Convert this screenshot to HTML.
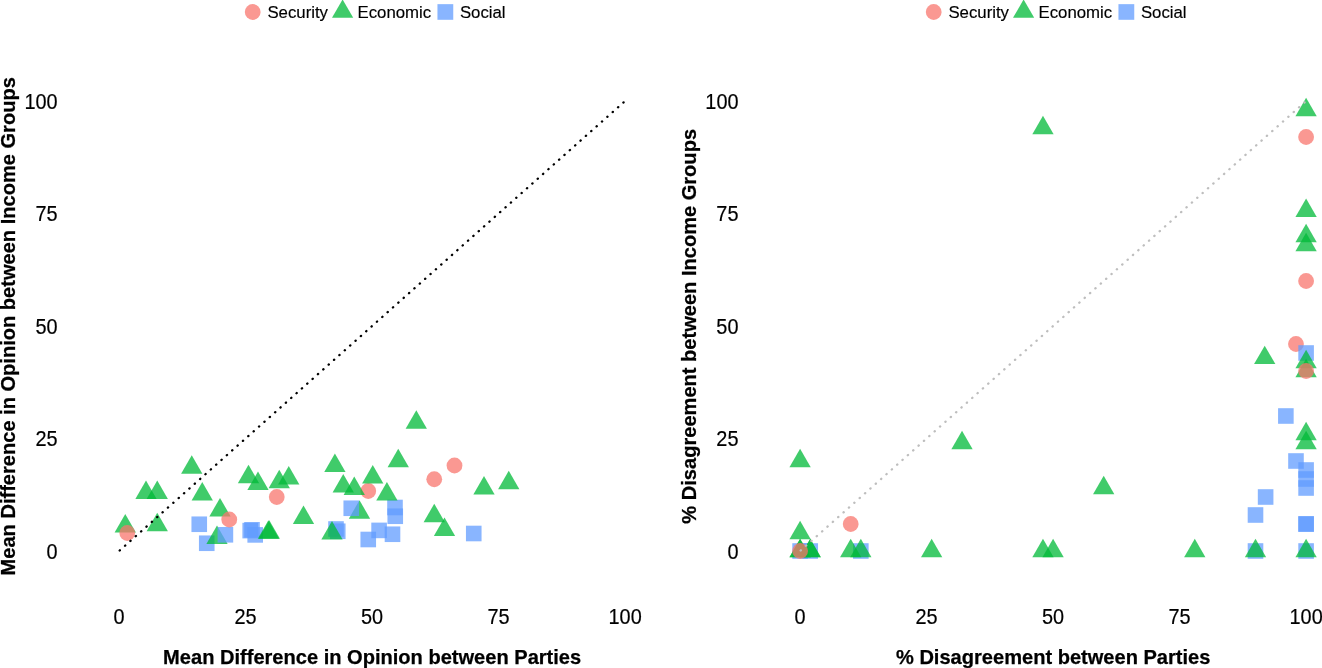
<!DOCTYPE html>
<html><head><meta charset="utf-8"><title>Disagreement plots</title>
<style>
html,body{margin:0;padding:0;background:#fff;}
body{width:1322px;height:668px;overflow:hidden;}
svg{display:block;will-change:transform;}
text{font-family:"Liberation Sans",Arial,Helvetica,sans-serif;fill:#000;}
.tick{font-size:20.4px;stroke:#000;stroke-width:0.18px;}
.leg{font-size:16.8px;stroke:#000;stroke-width:0.15px;}
.ttl{font-size:20.07px;font-weight:bold;stroke:#000;stroke-width:0.25px;}
</style></head><body>
<svg width="1322" height="668" viewBox="0 0 1322 668">
<rect width="1322" height="668" fill="#fff"/>

<g id="left">
<circle cx="252.70" cy="12" r="7.9" fill="#F8766D" fill-opacity="0.75"/>
<text class="leg" x="267.40" y="18.1">Security</text>
<polygon points="342.60,-0.55 353.20,17.85 332.00,17.85" fill="#00BA38" fill-opacity="0.75"/>
<text class="leg" x="357.50" y="18.1">Economic</text>
<rect x="437.45" y="4.15" width="15.8" height="15.65" fill="#619CFF" fill-opacity="0.75"/>
<text class="leg" x="459.90" y="18.1">Social</text>
<text class="tick" transform="translate(57.6,558.95) scale(0.975,1.045)" text-anchor="end">0</text>
<text class="tick" transform="translate(119.10,624.3) scale(0.975,1.045)" text-anchor="middle">0</text>
<text class="tick" transform="translate(57.6,446.45) scale(0.975,1.045)" text-anchor="end">25</text>
<text class="tick" transform="translate(245.60,624.3) scale(0.975,1.045)" text-anchor="middle">25</text>
<text class="tick" transform="translate(57.6,333.95) scale(0.975,1.045)" text-anchor="end">50</text>
<text class="tick" transform="translate(372.10,624.3) scale(0.975,1.045)" text-anchor="middle">50</text>
<text class="tick" transform="translate(57.6,221.45) scale(0.975,1.045)" text-anchor="end">75</text>
<text class="tick" transform="translate(498.60,624.3) scale(0.975,1.045)" text-anchor="middle">75</text>
<text class="tick" transform="translate(57.6,108.95) scale(0.975,1.045)" text-anchor="end">100</text>
<text class="tick" transform="translate(625.10,624.3) scale(0.975,1.045)" text-anchor="middle">100</text>
<text class="ttl" transform="translate(14.5,326.3) rotate(-90)" text-anchor="middle">Mean Difference in Opinion between Income Groups</text>
<text class="ttl" x="372.15" y="663.6" text-anchor="middle">Mean Difference in Opinion between Parties</text>
<rect x="191.45" y="516.45" width="15.60" height="15.60" fill="#619CFF" fill-opacity="0.75"/>
<rect x="198.95" y="535.45" width="15.60" height="15.60" fill="#619CFF" fill-opacity="0.75"/>
<rect x="242.40" y="522.80" width="15.60" height="15.60" fill="#619CFF" fill-opacity="0.75"/>
<rect x="244.20" y="522.00" width="15.60" height="15.60" fill="#619CFF" fill-opacity="0.75"/>
<rect x="247.40" y="527.10" width="15.60" height="15.60" fill="#619CFF" fill-opacity="0.75"/>
<rect x="328.20" y="521.20" width="15.60" height="15.60" fill="#619CFF" fill-opacity="0.75"/>
<rect x="329.95" y="523.45" width="15.60" height="15.60" fill="#619CFF" fill-opacity="0.75"/>
<rect x="360.45" y="531.70" width="15.60" height="15.60" fill="#619CFF" fill-opacity="0.75"/>
<rect x="371.30" y="522.60" width="15.60" height="15.60" fill="#619CFF" fill-opacity="0.75"/>
<rect x="384.70" y="526.45" width="15.60" height="15.60" fill="#619CFF" fill-opacity="0.75"/>
<rect x="387.20" y="499.70" width="15.60" height="15.60" fill="#619CFF" fill-opacity="0.75"/>
<rect x="387.45" y="508.45" width="15.60" height="15.60" fill="#619CFF" fill-opacity="0.75"/>
<rect x="465.95" y="525.70" width="15.60" height="15.60" fill="#619CFF" fill-opacity="0.75"/>
<circle cx="368.25" cy="491.00" r="7.90" fill="#F8766D" fill-opacity="0.75"/>
<polygon points="125.25,513.95 135.90,532.40 114.60,532.40" fill="#00BA38" fill-opacity="0.75"/>
<polygon points="146.00,480.45 156.65,498.90 135.35,498.90" fill="#00BA38" fill-opacity="0.75"/>
<polygon points="157.25,480.45 167.90,498.90 146.60,498.90" fill="#00BA38" fill-opacity="0.75"/>
<polygon points="157.25,512.70 167.90,531.15 146.60,531.15" fill="#00BA38" fill-opacity="0.75"/>
<polygon points="191.75,455.20 202.40,473.65 181.10,473.65" fill="#00BA38" fill-opacity="0.75"/>
<polygon points="202.25,481.95 212.90,500.40 191.60,500.40" fill="#00BA38" fill-opacity="0.75"/>
<polygon points="220.00,497.95 230.65,516.40 209.35,516.40" fill="#00BA38" fill-opacity="0.75"/>
<polygon points="217.00,525.45 227.65,543.90 206.35,543.90" fill="#00BA38" fill-opacity="0.75"/>
<polygon points="248.50,464.70 259.15,483.15 237.85,483.15" fill="#00BA38" fill-opacity="0.75"/>
<polygon points="258.00,471.45 268.65,489.90 247.35,489.90" fill="#00BA38" fill-opacity="0.75"/>
<polygon points="279.25,469.70 289.90,488.15 268.60,488.15" fill="#00BA38" fill-opacity="0.75"/>
<polygon points="288.75,465.95 299.40,484.40 278.10,484.40" fill="#00BA38" fill-opacity="0.75"/>
<polygon points="268.40,520.30 279.05,538.75 257.75,538.75" fill="#00BA38" fill-opacity="0.75"/>
<polygon points="269.30,520.20 279.95,538.65 258.65,538.65" fill="#00BA38" fill-opacity="0.75"/>
<polygon points="303.50,505.45 314.15,523.90 292.85,523.90" fill="#00BA38" fill-opacity="0.75"/>
<polygon points="334.90,453.60 345.55,472.05 324.25,472.05" fill="#00BA38" fill-opacity="0.75"/>
<polygon points="343.25,473.95 353.90,492.40 332.60,492.40" fill="#00BA38" fill-opacity="0.75"/>
<polygon points="354.25,476.45 364.90,494.90 343.60,494.90" fill="#00BA38" fill-opacity="0.75"/>
<polygon points="372.75,464.95 383.40,483.40 362.10,483.40" fill="#00BA38" fill-opacity="0.75"/>
<polygon points="386.90,481.95 397.55,500.40 376.25,500.40" fill="#00BA38" fill-opacity="0.75"/>
<polygon points="398.25,448.70 408.90,467.15 387.60,467.15" fill="#00BA38" fill-opacity="0.75"/>
<polygon points="416.30,410.30 426.95,428.75 405.65,428.75" fill="#00BA38" fill-opacity="0.75"/>
<polygon points="359.50,500.20 370.15,518.65 348.85,518.65" fill="#00BA38" fill-opacity="0.75"/>
<polygon points="332.00,520.95 342.65,539.40 321.35,539.40" fill="#00BA38" fill-opacity="0.75"/>
<polygon points="434.25,503.70 444.90,522.15 423.60,522.15" fill="#00BA38" fill-opacity="0.75"/>
<polygon points="444.50,517.45 455.15,535.90 433.85,535.90" fill="#00BA38" fill-opacity="0.75"/>
<polygon points="484.00,475.95 494.65,494.40 473.35,494.40" fill="#00BA38" fill-opacity="0.75"/>
<polygon points="508.75,470.70 519.40,489.15 498.10,489.15" fill="#00BA38" fill-opacity="0.75"/>
<rect x="217.60" y="527.00" width="15.60" height="15.60" fill="#619CFF" fill-opacity="0.75"/>
<rect x="343.45" y="500.45" width="15.60" height="15.60" fill="#619CFF" fill-opacity="0.75"/>
<circle cx="127.25" cy="533.00" r="7.90" fill="#F8766D" fill-opacity="0.75"/>
<circle cx="229.25" cy="519.50" r="7.90" fill="#F8766D" fill-opacity="0.75"/>
<circle cx="276.75" cy="497.00" r="7.90" fill="#F8766D" fill-opacity="0.75"/>
<circle cx="434.25" cy="479.25" r="7.90" fill="#F8766D" fill-opacity="0.75"/>
<circle cx="454.50" cy="465.50" r="7.90" fill="#F8766D" fill-opacity="0.75"/>
<line x1="119.10" y1="551.00" x2="625.10" y2="101.00" stroke="#000" stroke-width="2.3" stroke-linecap="round" stroke-dasharray="0.3 6.871" stroke-dashoffset="-0.75"/>
</g>
<g id="right">
<circle cx="933.70" cy="12" r="7.9" fill="#F8766D" fill-opacity="0.75"/>
<text class="leg" x="948.40" y="18.1">Security</text>
<polygon points="1023.60,-0.55 1034.20,17.85 1013.00,17.85" fill="#00BA38" fill-opacity="0.75"/>
<text class="leg" x="1038.50" y="18.1">Economic</text>
<rect x="1118.45" y="4.15" width="15.8" height="15.65" fill="#619CFF" fill-opacity="0.75"/>
<text class="leg" x="1140.90" y="18.1">Social</text>
<text class="tick" transform="translate(738.5,558.95) scale(0.975,1.045)" text-anchor="end">0</text>
<text class="tick" transform="translate(800.10,624.3) scale(0.975,1.045)" text-anchor="middle">0</text>
<text class="tick" transform="translate(738.5,446.45) scale(0.975,1.045)" text-anchor="end">25</text>
<text class="tick" transform="translate(926.60,624.3) scale(0.975,1.045)" text-anchor="middle">25</text>
<text class="tick" transform="translate(738.5,333.95) scale(0.975,1.045)" text-anchor="end">50</text>
<text class="tick" transform="translate(1053.10,624.3) scale(0.975,1.045)" text-anchor="middle">50</text>
<text class="tick" transform="translate(738.5,221.45) scale(0.975,1.045)" text-anchor="end">75</text>
<text class="tick" transform="translate(1179.60,624.3) scale(0.975,1.045)" text-anchor="middle">75</text>
<text class="tick" transform="translate(738.5,108.95) scale(0.975,1.045)" text-anchor="end">100</text>
<text class="tick" transform="translate(1306.10,624.3) scale(0.975,1.045)" text-anchor="middle">100</text>
<text class="ttl" transform="translate(695.8,326.3) rotate(-90)" text-anchor="middle">% Disagreement between Income Groups</text>
<text class="ttl" x="1053.2" y="663.6" text-anchor="middle">% Disagreement between Parties</text>
<circle cx="1295.98" cy="344.00" r="7.90" fill="#F8766D" fill-opacity="0.75"/>
<rect x="792.30" y="543.20" width="15.60" height="15.60" fill="#619CFF" fill-opacity="0.75"/>
<rect x="802.42" y="543.20" width="15.60" height="15.60" fill="#619CFF" fill-opacity="0.75"/>
<rect x="853.02" y="543.20" width="15.60" height="15.60" fill="#619CFF" fill-opacity="0.75"/>
<rect x="1247.70" y="543.20" width="15.60" height="15.60" fill="#619CFF" fill-opacity="0.75"/>
<rect x="1298.30" y="543.20" width="15.60" height="15.60" fill="#619CFF" fill-opacity="0.75"/>
<rect x="1298.30" y="516.20" width="15.60" height="15.60" fill="#619CFF" fill-opacity="0.75"/>
<rect x="1298.30" y="516.20" width="15.60" height="15.60" fill="#619CFF" fill-opacity="0.75"/>
<rect x="1247.70" y="507.20" width="15.60" height="15.60" fill="#619CFF" fill-opacity="0.75"/>
<rect x="1257.82" y="489.20" width="15.60" height="15.60" fill="#619CFF" fill-opacity="0.75"/>
<rect x="1298.30" y="480.20" width="15.60" height="15.60" fill="#619CFF" fill-opacity="0.75"/>
<rect x="1298.30" y="471.20" width="15.60" height="15.60" fill="#619CFF" fill-opacity="0.75"/>
<rect x="1298.30" y="462.20" width="15.60" height="15.60" fill="#619CFF" fill-opacity="0.75"/>
<rect x="1288.18" y="453.20" width="15.60" height="15.60" fill="#619CFF" fill-opacity="0.75"/>
<rect x="1278.06" y="408.20" width="15.60" height="15.60" fill="#619CFF" fill-opacity="0.75"/>
<rect x="1298.30" y="345.20" width="15.60" height="15.60" fill="#619CFF" fill-opacity="0.75"/>
<polygon points="800.10,538.70 810.75,557.15 789.45,557.15" fill="#00BA38" fill-opacity="0.75"/>
<polygon points="800.10,538.70 810.75,557.15 789.45,557.15" fill="#00BA38" fill-opacity="0.75"/>
<polygon points="810.22,538.70 820.87,557.15 799.57,557.15" fill="#00BA38" fill-opacity="0.75"/>
<polygon points="810.22,538.70 820.87,557.15 799.57,557.15" fill="#00BA38" fill-opacity="0.75"/>
<polygon points="850.70,538.70 861.35,557.15 840.05,557.15" fill="#00BA38" fill-opacity="0.75"/>
<polygon points="860.82,538.70 871.47,557.15 850.17,557.15" fill="#00BA38" fill-opacity="0.75"/>
<polygon points="931.66,538.70 942.31,557.15 921.01,557.15" fill="#00BA38" fill-opacity="0.75"/>
<polygon points="1042.98,538.70 1053.63,557.15 1032.33,557.15" fill="#00BA38" fill-opacity="0.75"/>
<polygon points="1053.10,538.70 1063.75,557.15 1042.45,557.15" fill="#00BA38" fill-opacity="0.75"/>
<polygon points="1194.78,538.70 1205.43,557.15 1184.13,557.15" fill="#00BA38" fill-opacity="0.75"/>
<polygon points="1255.50,538.70 1266.15,557.15 1244.85,557.15" fill="#00BA38" fill-opacity="0.75"/>
<polygon points="1306.10,538.70 1316.75,557.15 1295.45,557.15" fill="#00BA38" fill-opacity="0.75"/>
<polygon points="800.10,520.70 810.75,539.15 789.45,539.15" fill="#00BA38" fill-opacity="0.75"/>
<polygon points="800.10,448.70 810.75,467.15 789.45,467.15" fill="#00BA38" fill-opacity="0.75"/>
<polygon points="962.02,430.70 972.67,449.15 951.37,449.15" fill="#00BA38" fill-opacity="0.75"/>
<polygon points="1103.70,475.70 1114.35,494.15 1093.05,494.15" fill="#00BA38" fill-opacity="0.75"/>
<polygon points="1042.98,115.70 1053.63,134.15 1032.33,134.15" fill="#00BA38" fill-opacity="0.75"/>
<polygon points="1306.10,97.70 1316.75,116.15 1295.45,116.15" fill="#00BA38" fill-opacity="0.75"/>
<polygon points="1306.10,198.50 1316.75,216.95 1295.45,216.95" fill="#00BA38" fill-opacity="0.75"/>
<polygon points="1306.10,223.70 1316.75,242.15 1295.45,242.15" fill="#00BA38" fill-opacity="0.75"/>
<polygon points="1306.10,232.70 1316.75,251.15 1295.45,251.15" fill="#00BA38" fill-opacity="0.75"/>
<polygon points="1264.71,345.65 1275.36,364.10 1254.06,364.10" fill="#00BA38" fill-opacity="0.75"/>
<polygon points="1306.10,349.70 1316.75,368.15 1295.45,368.15" fill="#00BA38" fill-opacity="0.75"/>
<polygon points="1306.10,358.70 1316.75,377.15 1295.45,377.15" fill="#00BA38" fill-opacity="0.75"/>
<polygon points="1306.10,421.70 1316.75,440.15 1295.45,440.15" fill="#00BA38" fill-opacity="0.75"/>
<polygon points="1306.10,430.70 1316.75,449.15 1295.45,449.15" fill="#00BA38" fill-opacity="0.75"/>
<circle cx="800.10" cy="551.00" r="7.90" fill="#F8766D" fill-opacity="0.75"/>
<circle cx="850.70" cy="524.00" r="7.90" fill="#F8766D" fill-opacity="0.75"/>
<circle cx="1306.10" cy="371.00" r="7.90" fill="#F8766D" fill-opacity="0.75"/>
<circle cx="1306.10" cy="281.00" r="7.90" fill="#F8766D" fill-opacity="0.75"/>
<circle cx="1306.10" cy="137.00" r="7.90" fill="#F8766D" fill-opacity="0.75"/>
<line x1="800.10" y1="551.00" x2="1306.10" y2="101.00" stroke="#BEBEBE" stroke-width="2.3" stroke-linecap="round" stroke-dasharray="0.3 6.871" stroke-dashoffset="-0.75"/>
</g>
</svg></body></html>
